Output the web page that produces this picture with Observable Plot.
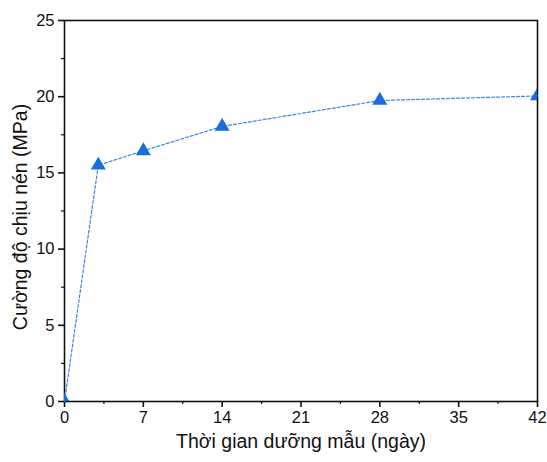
<!DOCTYPE html>
<html><head><meta charset="utf-8">
<script src="https://cdn.jsdelivr.net/npm/d3@7"></script>
<script src="https://cdn.jsdelivr.net/npm/@observablehq/plot@0.6"></script>
<style>body{margin:0;background:#fff;font-family:"Liberation Sans",Arial,sans-serif}</style>
</head><body><div id="chart"></div>
<script>
const days = [0, 3, 7, 14, 28, 42];
const strength = [0, 15.5, 16.45, 18.05, 19.75, 20.05];
const xTicks = [0, 7, 14, 21, 28, 35, 42];
const xMinor = [3.5, 10.5, 17.5, 24.5, 31.5, 38.5];
const yTicks = [0, 5, 10, 15, 20, 25];
const yMinor = [2.5, 7.5, 12.5, 17.5, 22.5];
const data = days.map((d, i) => ({day: d, value: strength[i]}));

const chart = Plot.plot({
  width: 547, height: 462,
  marginLeft: 64, marginRight: 10, marginTop: 20, marginBottom: 61,
  style: {fontFamily: "Liberation Sans, Arial, sans-serif", fontSize: "16px", background: "white", color: "#111"},
  x: {domain: [0, 42]},
  y: {domain: [0, 25]},
  marks: [
    Plot.frame({stroke: "#111", strokeWidth: 1.6}),
    Plot.axisX({ticks: xTicks, tickSize: 6, tickPadding: 4, strokeWidth: 1.6, fontSize: 16.5, label: null}),
    Plot.axisX({ticks: xMinor, tickSize: 3, text: null, label: null, strokeWidth: 1.2}),
    Plot.axisY({ticks: yTicks, tickSize: 6, tickPadding: 4, strokeWidth: 1.6, fontSize: 16.5, label: null}),
    Plot.axisY({ticks: yMinor, tickSize: 3, text: null, label: null, strokeWidth: 1.2}),
    Plot.line(data, {x: "day", y: "value", stroke: "#3a86e8", strokeWidth: 1.2, strokeDasharray: "3,2"}),
    Plot.dot(data, {x: "day", y: "value", symbol: "triangle", r: 4.6, fill: "#1a6edb", stroke: "#1a6edb", clip: true}),
    Plot.text(["Thời gian dưỡng mẫu (ngày)"], {frameAnchor: "bottom", dy: 40, lineAnchor: "middle", fontSize: 19.5, fill: "#111"}),
    Plot.text(["Cường độ chịu nén (MPa)"], {frameAnchor: "left", dx: -44, dy: 6, textAnchor: "middle", lineAnchor: "middle", rotate: -90, fontSize: 19.5, fill: "#111"})
  ]
});
document.getElementById("chart").appendChild(chart);
</script>
</body></html>
